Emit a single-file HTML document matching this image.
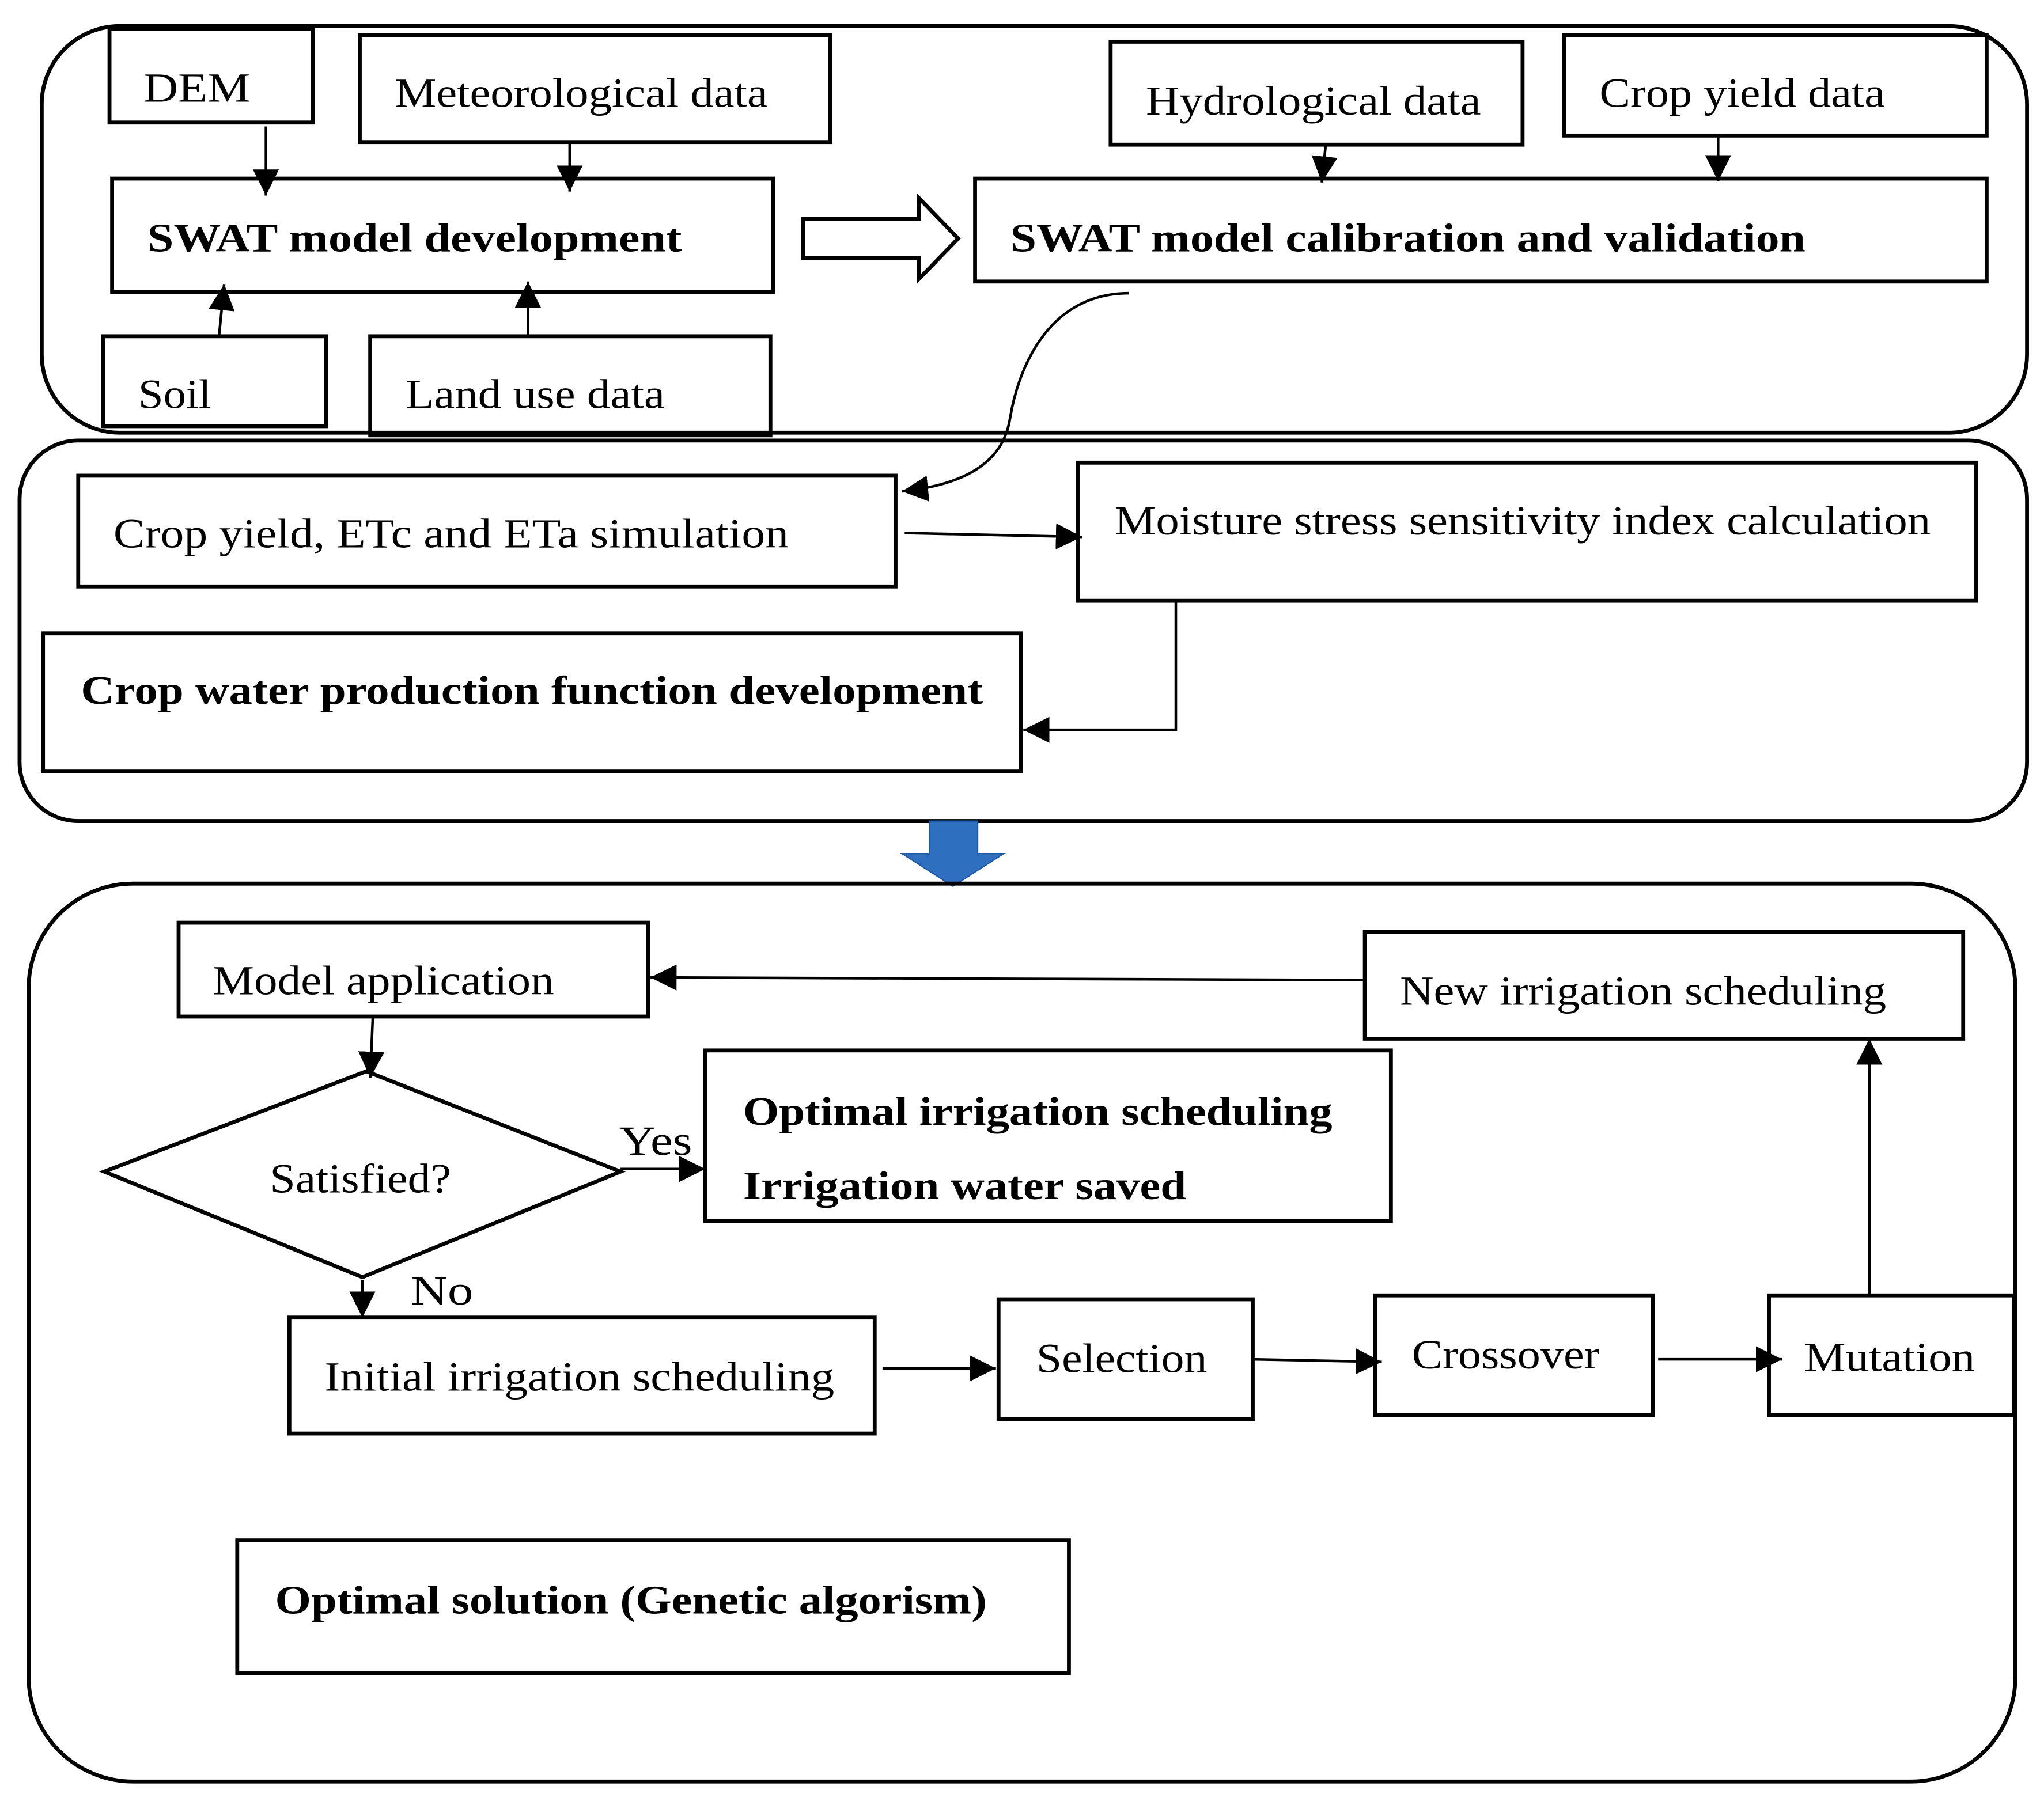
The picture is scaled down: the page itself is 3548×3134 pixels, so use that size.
<!DOCTYPE html>
<html><head><meta charset="utf-8"><style>html,body{margin:0;padding:0;background:#fff}svg{display:block}</style></head>
<body>
<svg width="3548" height="3134" viewBox="0 0 1568 1385" xmlns="http://www.w3.org/2000/svg">
<defs>
<marker id="a" viewBox="0 0 10 10" refX="10" refY="5" markerWidth="6" markerHeight="6" markerUnits="userSpaceOnUse" orient="auto">
<path d="M0,0 L10,5 L0,10 z" fill="#000"/></marker>
<marker id="b" viewBox="0 0 10 10" refX="10" refY="5" markerWidth="20" markerHeight="20" markerUnits="userSpaceOnUse" orient="auto">
<path d="M0,0 L10,5 L0,10 z" fill="#000"/></marker>
</defs>
<style>
rect,polygon{fill:none;stroke:#000;stroke-width:3}
line,path.c{stroke:#000;stroke-width:2;fill:none}
text{font-family:"Liberation Serif",serif;font-size:32px;fill:#000}
text.b{font-weight:bold;font-size:31px}
</style>
<!-- panel 1 -->
<rect x="32" y="20" width="1523" height="312" rx="60"/>
<rect x="84" y="22" width="156" height="72"/><text x="110" y="78" textLength="82" lengthAdjust="spacingAndGlyphs">DEM</text>
<rect x="276" y="27" width="361" height="82"/><text x="303" y="82" textLength="286" lengthAdjust="spacingAndGlyphs">Meteorological data</text>
<rect x="86" y="137" width="507" height="87"/><text class="b" x="113" y="193" textLength="410" lengthAdjust="spacingAndGlyphs">SWAT model development</text>
<rect x="79" y="258" width="171" height="69"/><text x="106" y="313" textLength="56" lengthAdjust="spacingAndGlyphs">Soil</text>
<rect x="284" y="258" width="307" height="76"/><text x="311" y="313" textLength="199" lengthAdjust="spacingAndGlyphs">Land use data</text>
<line x1="204" y1="97" x2="204" y2="150" marker-end="url(#b)"/>
<line x1="437" y1="110" x2="437" y2="147" marker-end="url(#b)"/>
<line x1="168" y1="258" x2="172" y2="218" marker-end="url(#b)"/>
<line x1="405" y1="258" x2="405" y2="216" marker-end="url(#b)"/>
<polygon points="616,168 705,168 705,152 735,183 705,214 705,198 616,198" style="stroke-width:3"/>
<rect x="852" y="32" width="316" height="79"/><text x="879" y="88" textLength="257" lengthAdjust="spacingAndGlyphs">Hydrological data</text>
<rect x="1200" y="27" width="324" height="77"/><text x="1227" y="82" textLength="219" lengthAdjust="spacingAndGlyphs">Crop yield data</text>
<rect x="748" y="137" width="776" height="79"/><text class="b" x="775" y="193" textLength="610" lengthAdjust="spacingAndGlyphs">SWAT model calibration and validation</text>
<line x1="1017" y1="111" x2="1014" y2="140" marker-end="url(#b)"/>
<line x1="1318" y1="104" x2="1318" y2="139" marker-end="url(#b)"/>
<path class="c" d="M866,225 C800,225 780,290 775,320 C770,355 740,372 692,377" marker-end="url(#b)"/>
<!-- panel 2 -->
<rect x="15" y="338" width="1540" height="292" rx="45"/>
<rect x="60" y="365" width="627" height="85"/><text x="87" y="420" textLength="518" lengthAdjust="spacingAndGlyphs">Crop yield, ETc and ETa simulation</text>
<rect x="827" y="355" width="689" height="106"/><text x="855" y="410" textLength="626" lengthAdjust="spacingAndGlyphs">Moisture stress sensitivity index calculation</text>
<line x1="694" y1="409" x2="830" y2="412" marker-end="url(#b)"/>
<rect x="33" y="486" width="750" height="106"/><text class="b" x="62" y="540" textLength="692" lengthAdjust="spacingAndGlyphs">Crop water production function development</text>
<path class="c" d="M902,461 L902,560 L785,560" marker-end="url(#b)"/>
<!-- blue arrow -->
<polygon points="713,630 750,630 750,655 770,655 731,680 692,655 713,655" style="fill:#2e6fbf;stroke:#1f5aa6;stroke-width:1"/>
<!-- panel 3 -->
<rect x="22" y="678" width="1524" height="689" rx="80"/>
<rect x="137" y="708" width="360" height="72"/><text x="163" y="763" textLength="262" lengthAdjust="spacingAndGlyphs">Model application</text>
<rect x="1047" y="715" width="459" height="82"/><text x="1074" y="771" textLength="373" lengthAdjust="spacingAndGlyphs">New irrigation scheduling</text>
<line x1="1047" y1="752" x2="499" y2="750" marker-end="url(#b)"/>
<line x1="286" y1="780" x2="284" y2="827" marker-end="url(#b)"/>
<polygon points="281,822 476,899 278,980 80,899"/>
<text x="207" y="915" textLength="139" lengthAdjust="spacingAndGlyphs">Satisfied?</text>
<text x="475" y="886" textLength="56" lengthAdjust="spacingAndGlyphs">Yes</text>
<line x1="476" y1="897" x2="541" y2="897" marker-end="url(#b)"/>
<rect x="541" y="806" width="526" height="131"/>
<text class="b" x="570" y="863" textLength="452" lengthAdjust="spacingAndGlyphs">Optimal irrigation scheduling</text>
<text class="b" x="570" y="920" textLength="340" lengthAdjust="spacingAndGlyphs">Irrigation water saved</text>
<text x="315" y="1001" textLength="48" lengthAdjust="spacingAndGlyphs">No</text>
<line x1="278" y1="982" x2="278" y2="1011" marker-end="url(#b)"/>
<rect x="222" y="1011" width="449" height="89"/><text x="249" y="1067" textLength="391" lengthAdjust="spacingAndGlyphs">Initial irrigation scheduling</text>
<line x1="677" y1="1050" x2="764" y2="1050" marker-end="url(#b)"/>
<rect x="766" y="997" width="195" height="92"/><text x="795" y="1053" textLength="131" lengthAdjust="spacingAndGlyphs">Selection</text>
<line x1="961" y1="1043" x2="1060" y2="1045" marker-end="url(#b)"/>
<rect x="1055" y="994" width="213" height="92"/><text x="1083" y="1050" textLength="144" lengthAdjust="spacingAndGlyphs">Crossover</text>
<line x1="1272" y1="1043" x2="1367" y2="1043" marker-end="url(#b)"/>
<rect x="1357" y="994" width="188" height="92"/><text x="1384" y="1052" textLength="131" lengthAdjust="spacingAndGlyphs">Mutation</text>
<line x1="1434" y1="994" x2="1434" y2="797" marker-end="url(#b)"/>
<rect x="182" y="1182" width="638" height="102"/><text class="b" x="211" y="1238" textLength="546" lengthAdjust="spacingAndGlyphs">Optimal solution (Genetic algorism)</text>
</svg>
</body></html>
